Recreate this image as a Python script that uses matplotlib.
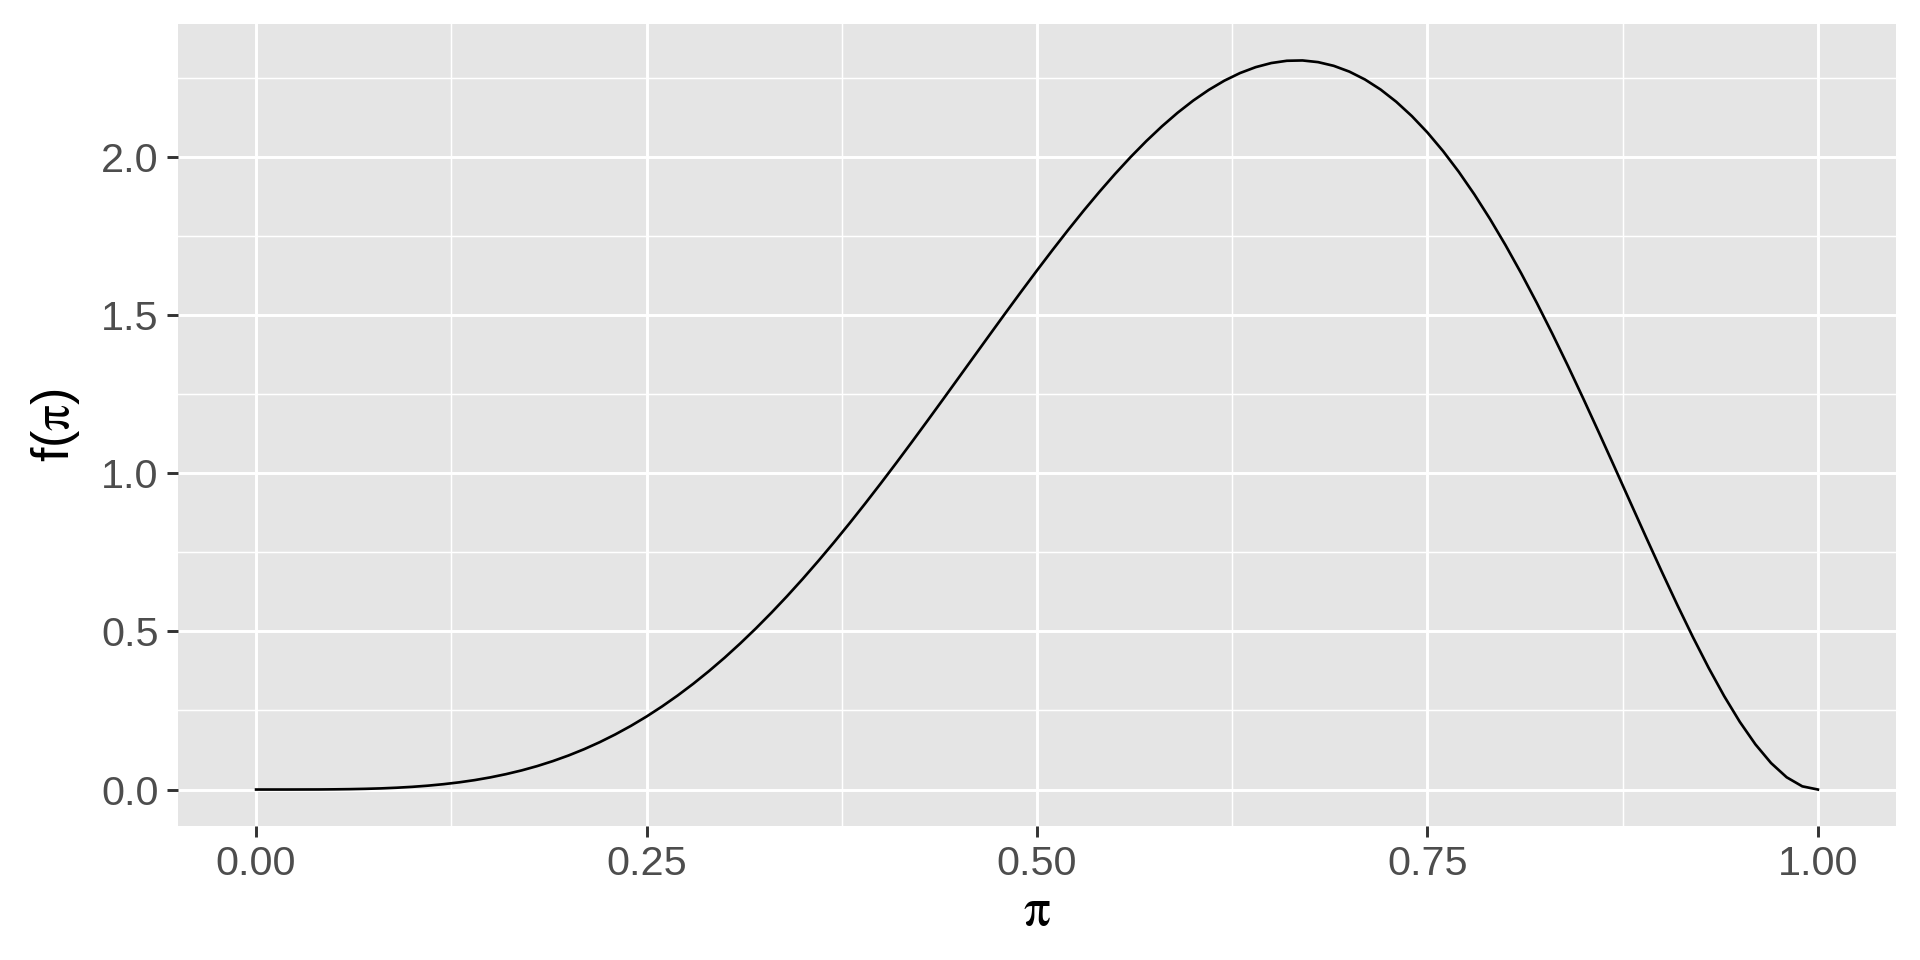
import matplotlib
matplotlib.use("Agg")
import matplotlib.pyplot as plt
from matplotlib.ticker import MultipleLocator

# density values, every 0.01 along pi
pi_vals = [round(i / 100, 2) for i in range(101)]
density = [
    0.0000, 0.0000, 0.0000, 0.0001, 0.0002, 0.0006, 0.0012, 0.0022, 0.0036, 0.0057,
    0.0085, 0.0122, 0.0169, 0.0227, 0.0298, 0.0384, 0.0486, 0.0604, 0.0741, 0.0898,
    0.1075, 0.1274, 0.1496, 0.1742, 0.2012, 0.2307, 0.2628, 0.2974, 0.3346, 0.3744,
    0.4167, 0.4617, 0.5091, 0.5590, 0.6112, 0.6657, 0.7224, 0.7810, 0.8416, 0.9039,
    0.9677, 1.0328, 1.0991, 1.1663, 1.2342, 1.3025, 1.3709, 1.4392, 1.5072, 1.5744,
    1.6406, 1.7055, 1.7688, 1.8302, 1.8892, 1.9457, 1.9992, 2.0494, 2.0960, 2.1388,
    2.1773, 2.2112, 2.2404, 2.2644, 2.2830, 2.2960, 2.3032, 2.3042, 2.2989, 2.2872,
    2.2689, 2.2440, 2.2123, 2.1737, 2.1284, 2.0764, 2.0177, 1.9526, 1.8811, 1.8036,
    1.7203, 1.6317, 1.5381, 1.4401, 1.3383, 1.2332, 1.1257, 1.0166, 0.9067, 0.7971,
    0.6889, 0.5832, 0.4814, 0.3849, 0.2951, 0.2138, 0.1427, 0.0837, 0.0387, 0.0101,
    0.0000,
]

x_ticks = [0.00, 0.25, 0.50, 0.75, 1.00]
x_labels = ["0.00", "0.25", "0.50", "0.75", "1.00"]
y_ticks = [0.0, 0.5, 1.0, 1.5, 2.0]
y_labels = ["0.0", "0.5", "1.0", "1.5", "2.0"]

plt.rcParams["font.family"] = ["Liberation Sans", "DejaVu Sans"]
plt.rcParams["mathtext.fontset"] = "stix"

fig = plt.figure(figsize=(10, 5), dpi=192)
ax = fig.add_axes([0.0927, 0.1396, 0.8948, 0.8354])
ax.set_facecolor("#E5E5E5")

ax.plot(pi_vals, density, color="black", linewidth=1.0, zorder=3)

ax.set_xlim(-0.05, 1.05)
ymax = max(density)
ax.set_ylim(-0.05 * ymax, 1.05 * ymax)

ax.set_xticks(x_ticks)
ax.set_xticklabels(x_labels)
ax.set_yticks(y_ticks)
ax.set_yticklabels(y_labels)
ax.xaxis.set_minor_locator(MultipleLocator(0.125))
ax.yaxis.set_minor_locator(MultipleLocator(0.25))

ax.grid(which="major", color="white", linewidth=1.1)
ax.grid(which="minor", color="white", linewidth=0.55)
ax.set_axisbelow(True)

for s in ax.spines.values():
    s.set_visible(False)

ax.tick_params(which="major", length=4.2, width=1.1, color="#333333",
               labelcolor="#4D4D4D", labelsize=15.5, pad=3)
ax.tick_params(which="minor", length=0)

ax.set_xlabel(r"$\mathrm{\pi}$", fontsize=20, color="black", labelpad=1)
ax.set_ylabel(r"f($\mathrm{\pi}$)", fontsize=19.5, color="black", labelpad=7)

fig.savefig("out.png", dpi=192)
